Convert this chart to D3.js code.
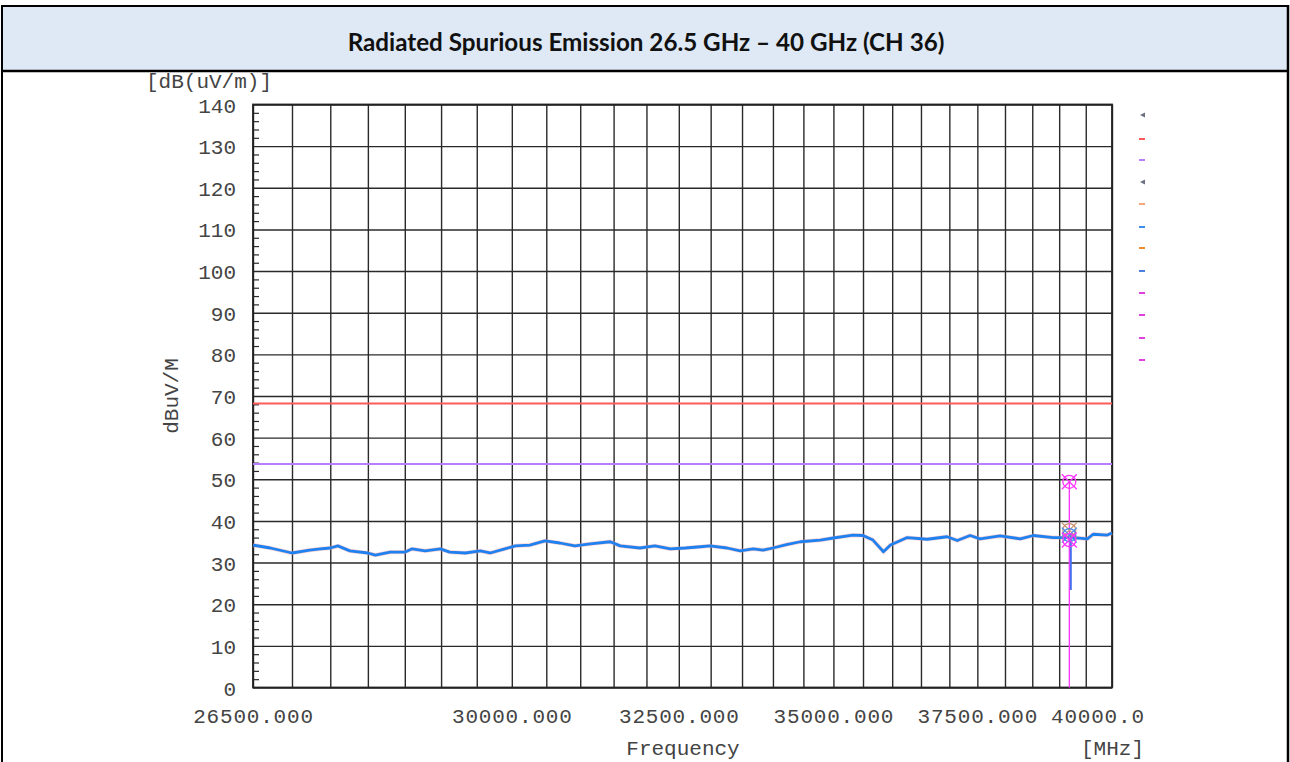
<!DOCTYPE html>
<html>
<head>
<meta charset="utf-8">
<script src="https://cdn.jsdelivr.net/npm/d3@7"></script>
<style>
  body { margin: 0; background: #fff; }
  .mono { font-family: "Courier New", "Liberation Mono", monospace; fill: #444; }
</style>
</head>
<body>
<script>
// trace (MHz, dBuV/m)
var freqMHz = [26500,26720,27000,27230,27370,27500,27600,27760,28000,28100,28300,28500,28600,28780,28990,29120,29340,29550,29690,29900,
  30050,30260,30480,30700,30920,31150,31450,31600,31900,32130,32370,32600,32840,32990,33260,33470,33680,33840,34000,34220,34450,34780,
  35000,35330,35500,35670,35850,35970,36260,36610,36960,37140,37370,37550,37910,38280,38520,38890,39260,39530,39640,39910,40000];
var levels = [34.2,33.5,32.3,33.0,33.3,33.5,34.0,32.8,32.3,31.8,32.5,32.5,33.3,32.8,33.3,32.5,32.3,32.8,32.3,33.3,
  34.0,34.2,35.2,34.7,34.0,34.5,35.0,34.0,33.5,34.0,33.3,33.5,33.8,34.0,33.5,32.8,33.3,33.0,33.5,34.3,35.0,35.4,
  35.9,36.6,36.5,35.4,32.6,34.2,36.0,35.6,36.2,35.3,36.5,35.7,36.4,35.7,36.5,36.0,36.0,35.7,36.8,36.6,37.1];

var limitLevels = [68.2, 53.7];
var limitColors = ["#ff5a5a", "#b77cff"];

var xTicks = [26500, 30000, 32500, 35000, 37500];
var xGrid = d3.range(26500, 40001, 500);
var yTicks = d3.range(0, 141, 10);
var yMinor = d3.range(0, 141, 2);

var markerFreq = 39190;
var markerLevels = [49.4, 37.8, 36.6, 35.4];
var markerColors = ["#ff33ff", "#c89070", "#4a8cf0", "#ff33ff"];
var blueBarTop = 37.0, blueBarBottom = 23.4;

var legendColors = ["arrow","#ff5a5a","#b77cff","arrow","#f8a878","#3d8ef0","#f08a30","#4a80e0","#e040e0","#e040e0","#e040e0","#e040e0"];
var legendY = [115,139,160,182,204,227,248,271,293,315,338,360];

var W = 1290, H = 762;
var svg = d3.select("body").append("svg").attr("width", W).attr("height", H);

// frame + title band
svg.append("rect").attr("x", 2).attr("y", 6).attr("width", 1285).attr("height", 65).attr("fill", "#dee9f5");
svg.append("line").attr("x1", 1).attr("x2", 1289).attr("y1", 6).attr("y2", 6).attr("stroke", "#000").attr("stroke-width", 2);
svg.append("line").attr("x1", 1).attr("x2", 1289).attr("y1", 71).attr("y2", 71).attr("stroke", "#000").attr("stroke-width", 2.5);
svg.append("line").attr("x1", 2).attr("x2", 2).attr("y1", 5).attr("y2", H).attr("stroke", "#000").attr("stroke-width", 2);
svg.append("line").attr("x1", 1288).attr("x2", 1288).attr("y1", 5).attr("y2", H).attr("stroke", "#000").attr("stroke-width", 2.5);

var title = svg.append("text").attr("x", 646).attr("y", 51).attr("text-anchor", "middle")
  .style("font-family", "Lato, 'Open Sans', sans-serif").style("font-weight", "bold").style("font-size", "20px")
  .attr("fill", "#111").text("Radiated Spurious Emission 26.5 GHz \u2013 40 GHz (CH 36)");
var tw = title.node().getComputedTextLength();
title.style("font-size", (20 * 597 / tw) + "px");

var x = d3.scaleLog().domain([26500, 40000]).range([253, 1112]);
var y = d3.scaleLinear().domain([0, 140]).range([687.5, 104.5]);

// grid
svg.append("g").attr("transform", "translate(0,687.5)")
  .call(d3.axisBottom(x).tickValues(xGrid).tickSize(-(687.5 - 104.5)).tickFormat(""))
  .call(function(g){ g.select(".domain").remove(); g.selectAll("line").attr("stroke", "#2a2a2a").attr("stroke-width", 1.4); });
svg.append("g").attr("transform", "translate(253,0)")
  .call(d3.axisRight(y).tickValues(yTicks).tickSize(1112 - 253).tickFormat(""))
  .call(function(g){ g.select(".domain").remove(); g.selectAll("line").attr("stroke", "#2a2a2a").attr("stroke-width", 1.4); });
// minor ticks
svg.append("g").attr("transform", "translate(253,0)")
  .call(d3.axisRight(y).tickValues(yMinor.filter(function(v){ return v % 10 != 0; })).tickSize(6).tickFormat(""))
  .call(function(g){ g.select(".domain").remove(); g.selectAll("line").attr("stroke", "#2a2a2a").attr("stroke-width", 1.2); });
svg.append("rect").attr("x", 253).attr("y", 104.5).attr("width", 1112 - 253).attr("height", 687.5 - 104.5)
  .attr("fill", "none").attr("stroke", "#222").attr("stroke-width", 1.8);

// tick labels
svg.append("g").attr("transform", "translate(236,0)")
  .call(d3.axisLeft(y).tickValues(yTicks).tickSize(0).tickPadding(0))
  .call(function(g){
    g.select(".domain").remove();
    g.selectAll("text").attr("class", "mono").style("font-size", "21px").attr("fill", "#444").attr("dy", "0.36em");
  });
svg.append("g").attr("transform", "translate(0,723)")
  .call(d3.axisBottom(x).tickValues(xTicks).tickSize(0).tickPadding(0).tickFormat(d3.format(".3f")))
  .call(function(g){
    g.select(".domain").remove();
    g.selectAll("text").attr("class", "mono").style("font-size", "21px").style("letter-spacing", "0.8px")
      .attr("fill", "#444").attr("dy", 0);
  });
svg.append("text").attr("class", "mono").attr("x", 1051).attr("y", 723).style("font-size", "21px")
  .style("letter-spacing", "0.8px").text("40000.0");

svg.append("text").attr("class", "mono").attr("x", 146).attr("y", 88).style("font-size", "21px").text("[dB(uV/m)]");
svg.append("text").attr("class", "mono").attr("transform", "translate(178,396) rotate(-90)").attr("text-anchor", "middle")
  .style("font-size", "21px").text("dBuV/M");
svg.append("text").attr("class", "mono").attr("x", 683).attr("y", 755).attr("text-anchor", "middle")
  .style("font-size", "21px").text("Frequency");
svg.append("text").attr("class", "mono").attr("x", 1081).attr("y", 755).style("font-size", "21px").text("[MHz]");

// limit lines
limitLevels.forEach(function(v, i){
  svg.append("line").attr("x1", 253).attr("x2", 1112).attr("y1", y(v)).attr("y2", y(v))
    .attr("stroke", limitColors[i]).attr("stroke-width", 2);
});

// trace
var pts = freqMHz.map(function(f, i){ return [f, levels[i]]; });
var line = d3.line().x(function(d){ return x(d[0]); }).y(function(d){ return y(d[1]); });
svg.append("path").datum(pts).attr("d", line).attr("fill", "none").attr("stroke", "#f4a0a0").attr("stroke-width", 4.2).attr("opacity", 0.45);
svg.append("path").datum(pts).attr("d", line).attr("fill", "none").attr("stroke", "#1f80f0").attr("stroke-width", 2.8)
  .attr("stroke-linejoin", "round");

// marker lines
svg.append("line").attr("x1", x(markerFreq)).attr("x2", x(markerFreq)).attr("y1", y(markerLevels[0])).attr("y2", y(0))
  .attr("stroke", "#ff33ff").attr("stroke-width", 1.3);
svg.append("line").attr("x1", x(markerFreq) + 1.5).attr("x2", x(markerFreq) + 1.5).attr("y1", y(blueBarTop)).attr("y2", y(blueBarBottom))
  .attr("stroke", "#4a70f0").attr("stroke-width", 2);

// markers: circle with an x
markerLevels.forEach(function(v, i){
  var cx = x(markerFreq), cy = y(v), r = 6.5;
  var g = svg.append("g").attr("fill", "none").attr("stroke", markerColors[i]).attr("stroke-width", 1.3);
  g.append("circle").attr("cx", cx).attr("cy", cy).attr("r", r);
  g.append("path").attr("d", "M" + (cx - r - 1) + "," + (cy - r - 1) + "L" + (cx + r + 1) + "," + (cy + r + 1) +
    "M" + (cx + r + 1) + "," + (cy - r - 1) + "L" + (cx - r - 1) + "," + (cy + r + 1));
});

// legend stubs on the right
legendY.forEach(function(ly, i){
  if (legendColors[i] == "arrow") {
    svg.append("path").attr("d", "M1140," + ly + "L1145," + (ly - 2.5) + "L1145," + (ly + 2.5) + "Z").attr("fill", "#6a7080");
  } else {
    svg.append("rect").attr("x", 1139).attr("y", ly - 1).attr("width", 6).attr("height", 2).attr("fill", legendColors[i]);
  }
});
</script>
</body>
</html>
